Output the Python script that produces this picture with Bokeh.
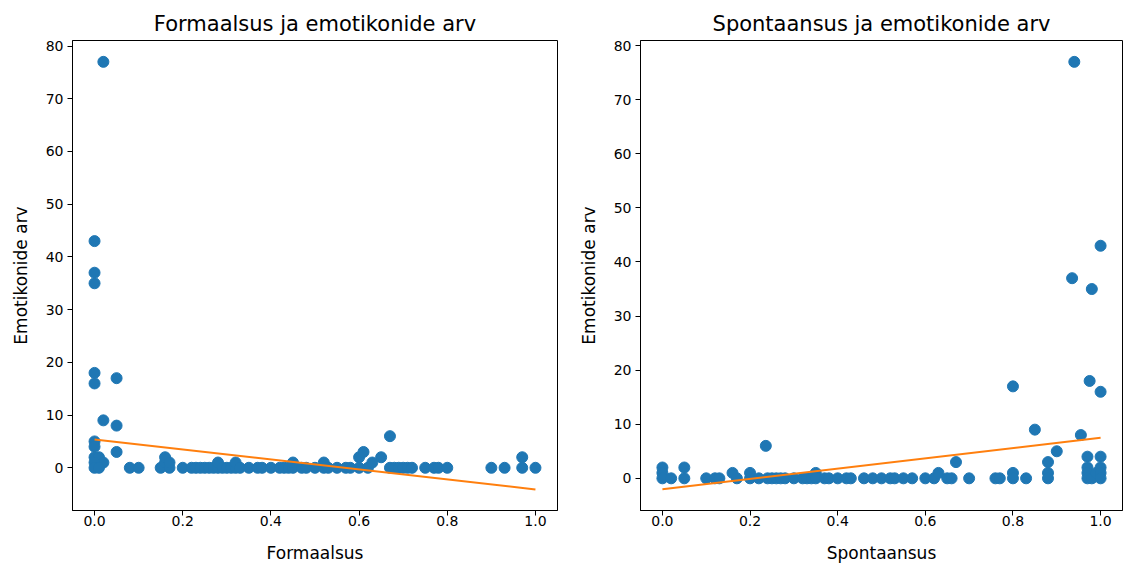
from bokeh.plotting import figure
from bokeh.layouts import row
from bokeh.models import Range1d, FixedTicker, PrintfTickFormatter
from bokeh.embed import file_html
from bokeh.resources import INLINE

# ---- data: formality vs emoticon count ----
form_x = [0.02, 0.0, 0.0, 0.0, 0.0, 0.0, 0.05, 0.02, 0.05, 0.0, 0.0, 0.05, 0.0, 0.01, 0.02,
          0.0, 0.0, 0.01, 0.08, 0.10, 0.15, 0.16, 0.16, 0.17, 0.17, 0.20, 0.22, 0.23, 0.24,
          0.25, 0.26, 0.27, 0.28, 0.28, 0.29, 0.30, 0.31, 0.32, 0.32, 0.33, 0.35, 0.37, 0.38,
          0.40, 0.42, 0.43, 0.44, 0.45, 0.45, 0.47, 0.48, 0.50, 0.52, 0.52, 0.53, 0.55, 0.57,
          0.58, 0.60, 0.60, 0.61, 0.62, 0.63, 0.65, 0.67, 0.67, 0.68, 0.69, 0.70, 0.71, 0.72,
          0.75, 0.77, 0.78, 0.80, 0.90, 0.93, 0.97, 0.97, 1.0]
form_y = [77, 43, 37, 35, 18, 16, 17, 9, 8, 5, 4, 3, 2, 2, 1,
          1, 0, 0, 0, 0, 0, 1, 2, 0, 1, 0, 0, 0, 0,
          0, 0, 0, 0, 1, 0, 0, 0, 0, 1, 0, 0, 0, 0,
          0, 0, 0, 0, 0, 1, 0, 0, 0, 0, 1, 0, 0, 0,
          0, 0, 2, 3, 0, 1, 2, 6, 0, 0, 0, 0, 0, 0,
          0, 0, 0, 0, 0, 0, 0, 2, 0]
form_fit_x = [0.0, 1.0]
form_fit_y = [5.35, -4.1]

# ---- data: spontaneity vs emoticon count ----
spon_x = [0.0, 0.0, 0.0, 0.02, 0.05, 0.05, 0.10, 0.12, 0.13, 0.16, 0.17, 0.20, 0.20, 0.22,
          0.24, 0.25, 0.26, 0.27, 0.28, 0.30, 0.32, 0.33, 0.34, 0.35, 0.35, 0.37, 0.38, 0.40,
          0.42, 0.43, 0.46, 0.48, 0.50, 0.52, 0.53, 0.55, 0.57, 0.60, 0.62, 0.63, 0.65, 0.66,
          0.67, 0.70, 0.76, 0.77, 0.80, 0.80, 0.80, 0.83, 0.85, 0.88, 0.88, 0.88, 0.90, 0.935,
          0.94, 0.955, 0.97, 0.97, 0.97, 0.97, 0.975, 0.98, 0.98, 0.99, 1.0, 1.0, 1.0, 1.0,
          1.0, 1.0, 0.236]
spon_y = [2, 1, 0, 0, 2, 0, 0, 0, 0, 1, 0, 1, 0, 0,
          0, 0, 0, 0, 0, 0, 0, 0, 0, 1, 0, 0, 0, 0,
          0, 0, 0, 0, 0, 0, 0, 0, 0, 0, 0, 1, 0, 0,
          3, 0, 0, 0, 17, 1, 0, 0, 9, 3, 1, 0, 5, 37,
          77, 8, 4, 2, 1, 0, 18, 35, 0, 1, 43, 16, 4, 2,
          1, 0, 6]
spon_fit_x = [0.0, 1.0]
spon_fit_y = [-2.0, 7.5]

BLUE = "#1f77b4"
ORANGE = "#ff7f0e"
FONT = "DejaVu Sans"


def make(title, xlabel, xs, ys, fx, fy, yr, width, bl, br):
    p = figure(width=width, height=566, output_backend="svg", toolbar_location=None,
               x_range=Range1d(-0.05, 1.05), y_range=Range1d(*yr),
               min_border_left=bl, min_border_right=br, min_border_top=40,
               min_border_bottom=56)
    p.title.text = title
    p.title.align = "center"
    p.title.text_font = FONT
    p.title.text_font_size = "21px"
    p.title.text_font_style = "normal"
    p.title.text_color = "#000000"
    p.title.standoff = 10
    p.xgrid.visible = False
    p.ygrid.visible = False
    p.outline_line_color = "#000000"
    p.outline_line_alpha = 1.0
    p.background_fill_color = "white"
    p.border_fill_color = "white"
    p.xaxis.ticker = FixedTicker(ticks=[0.0, 0.2, 0.4, 0.6, 0.8, 1.0])
    p.xaxis.formatter = PrintfTickFormatter(format="%.1f")
    p.yaxis.ticker = FixedTicker(ticks=[0, 10, 20, 30, 40, 50, 60, 70, 80])
    p.xaxis.axis_label = xlabel
    p.yaxis.axis_label = "Emotikonide arv"
    for ax in (p.xaxis[0], p.yaxis[0]):
        ax.axis_label_text_font = FONT
        ax.axis_label_text_font_size = "17px"
        ax.axis_label_text_font_style = "normal"
        ax.axis_label_text_color = "#000000"
        ax.major_label_text_font = FONT
        ax.major_label_text_font_size = "14px"
        ax.major_label_text_color = "#000000"
        ax.major_tick_in = 0
        ax.major_tick_out = 5
        ax.minor_tick_in = 0
        ax.minor_tick_out = 0
        ax.axis_line_color = "#000000"
        ax.major_tick_line_color = "#000000"
    p.xaxis.major_label_standoff = 0
    p.xaxis.axis_label_standoff = 14
    p.yaxis.major_label_standoff = 4
    p.yaxis.axis_label_standoff = 12
    p.scatter(xs, ys, size=11, color=BLUE)
    p.line(fx, fy, line_color=ORANGE, line_width=2)
    return p


p1 = make("Formaalsus ja emotikonide arv", "Formaalsus", form_x, form_y,
          form_fit_x, form_fit_y, (-8.1, 81.05), 570, 72, 13)
p2 = make("Spontaansus ja emotikonide arv", "Spontaansus", spon_x, spon_y,
          spon_fit_x, spon_fit_y, (-5.95, 80.95), 554, 70, 2)

layout = row(p1, p2)
open("out.html", "w").write(file_html(layout, INLINE))
